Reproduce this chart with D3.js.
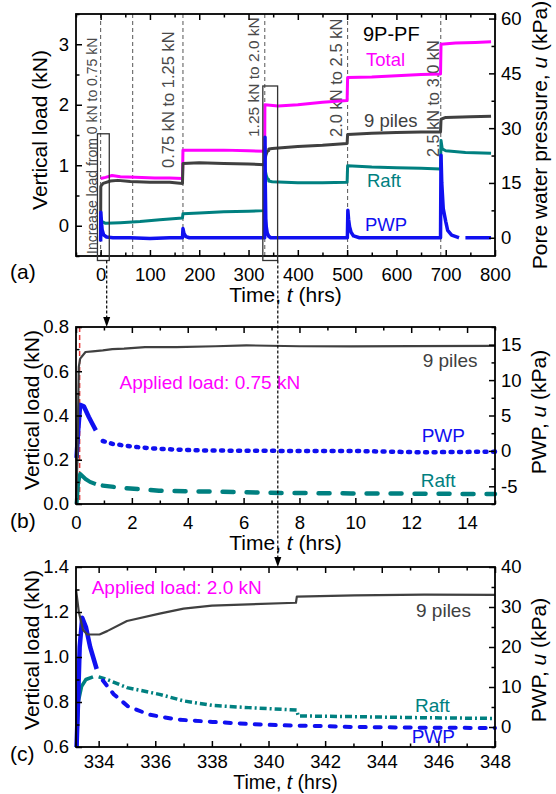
<!DOCTYPE html>
<html>
<head>
<meta charset="utf-8">
<script src="https://cdn.jsdelivr.net/npm/d3@7"></script>
<style>
  body { margin: 0; background: #fff; }
  svg { display: block; }
</style>
</head>
<body>
<svg id="fig" width="556" height="794"></svg>
<script>
// ---------------- data ----------------
// (a) long-term record, t in hours; loads in kN, PWP in kPa
const aTotal = [[0,0.78],[10,0.80],[23,0.83],[40,0.81],[70,0.80],[110,0.79],[140,0.79],[166,0.78],
  [167,1.25],[200,1.25],[250,1.25],[300,1.24],[332.8,1.23],
  [333.2,2.0],[360,1.98],[400,2.0],[450,2.04],[500,2.07],
  [501,2.45],[550,2.46],[600,2.48],[650,2.5],[689.5,2.51],
  [690.5,3.0],[720,3.02],[760,3.03],[792,3.04]];
const aPiles = [[0,0],[0.3,0.65],[5,0.70],[20,0.74],[35,0.75],[60,0.73],[100,0.72],[140,0.72],[166,0.70],
  [167,1.03],[200,1.04],[250,1.03],[300,1.02],[332.8,1.01],
  [333.2,1.3],[333.6,1.1],[335,1.16],[338,1.23],[341,1.24],[341.1,1.27],[348,1.275],[400,1.31],[450,1.33],[500,1.36],
  [501,1.51],[550,1.53],[600,1.54],[650,1.55],[689.5,1.55],
  [690.5,1.76],[700,1.79],[750,1.80],[792,1.81]];
const aRaft = [[0,0],[0.3,0.13],[3,0.07],[10,0.04],[40,0.05],[80,0.07],[120,0.10],[166,0.13],
  [167,0.20],[200,0.21],[250,0.23],[300,0.24],[332.8,0.25],
  [333.3,0.85],[334,0.91],[336,0.83],[338,0.785],[341,0.764],[341.1,0.738],[348,0.727],[400,0.71],[450,0.71],[500,0.72],
  [501,0.99],[550,0.97],[600,0.96],[650,0.95],[689.5,0.94],
  [690.5,1.41],[693,1.27],[700,1.24],[740,1.21],[792,1.20]];
const aPwp = [[0,-1],[0.3,7],[1.5,4.5],[3,2.2],[6,0.8],[12,0.2],[25,0],[60,0],[100,-0.2],[140,0],[166,0],
  [167,2.5],[169,1.2],[173,0.3],[180,0],[240,0],[300,0],[332.8,0],
  [333.4,27.5],[334,14.5],[335,5.2],[336,3],[338,1.3],[341,0.4],[345,0],[420,0],[500.5,0],
  [501.5,7.5],[503,5],[505,3],[508,1.5],[513,0.5],[525,0],[600,0],[689.5,0],
  [690.5,22.6],[692,15],[695,8],[700,4.5],[704,2],[712,0.7],[725,0.1],[727,0],[727,null],
  [740,null],[740,0],[792,0]];
const aGuides = [0, 65, 167, 333, 501, 690];
const aStepLabels = ["Increase load from 0 kN to 0.75 kN", "0.75 kN to 1.25 kN",
  "1.25 kN to 2.0 kN", "2.0 kN to 2.5 kN", "2.5 kN to 3.0 kN"];
const aXTicks = [0,100,200,300,400,500,600,700,800];
const aXMinor = [-50,50,150,250,350,450,550,650,750];
const aLTicks = [0,1,2,3];
const aLMinor = [-0.5,0.5,1.5,2.5,3.5];
const aRTicks = [0,15,30,45,60];
const aRMinor = [7.5,22.5,37.5,52.5];

// (b) first 15 h after the 0.75 kN step
const bPiles = [[0,0],[0.05,0.2],[0.1,0.62],[0.15,0.657],[0.34,0.687],[0.6,0.69],[0.96,0.694],[1.3,0.70],
  [1.72,0.702],[2.47,0.709],[3.6,0.709],[5,0.713],[6.1,0.717],[8,0.713],[9.86,0.712],[12,0.714],[15,0.715]];
const bPwp = [[0.02,-1],[0.08,3],[0.15,6.5],[0.28,6.3],[0.46,4.8],[0.59,3.8],[0.71,2.9],
  [0.96,1.4],[1.3,1.0],[1.72,0.76],[2.3,0.5],[2.97,0.28],[4,0.12],[4.85,0.05],[7.36,0],[9.86,0],[12.4,-0.2],[15,-0.1]];
const bRaft = [[0.02,0.0],[0.08,0.1],[0.15,0.136],[0.34,0.113],[0.5,0.10],[0.71,0.09],
  [0.96,0.083],[1.72,0.072],[2.97,0.06],[4.85,0.056],[7.36,0.05],[9.86,0.048],[15,0.045]];
const bLoadTime = 0.13;
const bSteepEnd = 0.72;
const bXTicks = [0,2,4,6,8,10,12,14];
const bXMinor = [1,3,5,7,9,11,13,15];
const bLTicks = [0,0.2,0.4,0.6,0.8];
const bLMinor = [0.1,0.3,0.5,0.7];
const bRTicks = [-5,0,5,10,15];
const bRMinor = [-7.5,-2.5,2.5,7.5,12.5,17.5];

// (c) first 15 h after the 2.0 kN step
const cPiles = [[333.2,1.30],[333.3,1.2],[333.45,1.12],[333.6,1.1],[334.03,1.1],[334.3,1.115],[335.0,1.16],
  [336.15,1.193],[337.0,1.215],[338.0,1.228],[339.3,1.234],[340.97,1.241],[341.0,1.268],
  [343.04,1.274],[345.5,1.277],[348,1.276]];
const cPwp = [[333.22,-5],[333.28,8],[333.33,20],[333.42,27.3],[333.55,25],[333.7,20],[333.93,14.5],
  [334.15,11.6],[334.53,8.2],[335.03,5.2],[335.78,3.1],[336.78,1.86],[338.03,1.27],[339.28,0.76],
  [340.5,0.42],[341.8,0.25],[343.04,0],[345.5,-0.17],[348,-0.25]];
const cRaft = [[333.22,0.6],[333.28,0.8],[333.4,0.87],[333.55,0.9],[333.8,0.912],[334.0,0.912],
  [334.3,0.9],[335.0,0.864],[336.15,0.834],[337.0,0.805],[338.0,0.785],[339.3,0.775],[341.0,0.764],
  [341.05,0.738],[343.0,0.735],[345.5,0.73],[348,0.727]];
const cSteepEnd = 333.95;
const cXTicks = [334,336,338,340,342,344,346,348];
const cXMinor = [335,337,339,341,343,345,347];
const cLTicks = [0.6,0.8,1.0,1.2,1.4];
const cLMinor = [0.7,0.9,1.1,1.3];
const cRTicks = [0,10,20,30,40];
const cRMinor = [-5,5,15,25,35];

// ---------------- drawing ----------------
const FONT = '"Liberation Sans", Arial, Helvetica, sans-serif';
const C = { total: "#ff00ff", piles: "#404040", raft: "#008080", pwp: "#1010f0", guide: "#555" };
const svg = d3.select("#fig").attr("font-family", FONT);
const L = 76, R = 495;

const panelA = { top: 14, bottom: 256 };
const panelB = { top: 327, bottom: 504 };
const panelC = { top: 567, bottom: 747 };

const xa = d3.scaleLinear().domain([-50, 800]).range([L, R]);
const yaL = d3.scaleLinear().domain([-0.5, 3.5]).range([panelA.bottom, panelA.top]);
const yaR = d3.scaleLinear().domain([-5, 61.25]).range([panelA.bottom, panelA.top]);
const xb = d3.scaleLinear().domain([0, 15]).range([L, R]);
const ybL = d3.scaleLinear().domain([0, 0.8]).range([panelB.bottom, panelB.top]);
const ybR = d3.scaleLinear().domain([-7.5, 17.5]).range([panelB.bottom, panelB.top]);
const xc = d3.scaleLinear().domain([333.2, 348]).range([L, R]);
const ycL = d3.scaleLinear().domain([0.6, 1.4]).range([panelC.bottom, panelC.top]);
const ycR = d3.scaleLinear().domain([-5, 40]).range([panelC.bottom, panelC.top]);

function addAxis(gen, tr, values, size, fmt, pad) {
  const a = svg.append("g").attr("transform", tr)
    .call(gen.tickValues(values).tickSize(size).tickPadding(pad).tickFormat(fmt));
  a.select(".domain").remove();
  a.selectAll("line").attr("stroke", "#000").attr("stroke-width", 1.5);
  a.selectAll("text").attr("font-size", 18.5).attr("fill", "#000").attr("font-family", FONT);
  return a;
}

function axes(p, x, yL, yR, t) {
  const blank = () => "";
  addAxis(d3.axisBottom(x), `translate(0,${p.bottom})`, t.xMajor, -6, t.xFmt, t.xPad || 11.5);
  addAxis(d3.axisBottom(x), `translate(0,${p.bottom})`, t.xMinor, -3.5, blank, 0);
  addAxis(d3.axisTop(x), `translate(0,${p.top})`, t.xMajor, -6, blank, 0);
  addAxis(d3.axisTop(x), `translate(0,${p.top})`, t.xMinor, -3.5, blank, 0);
  addAxis(d3.axisLeft(yL), `translate(${L},0)`, t.lMajor, -6, t.lFmt, 7);
  addAxis(d3.axisLeft(yL), `translate(${L},0)`, t.lMinor, -3.5, blank, 0);
  addAxis(d3.axisRight(yR), `translate(${R},0)`, t.rMajor, -6, t.rFmt, 6);
  addAxis(d3.axisRight(yR), `translate(${R},0)`, t.rMinor, -3.5, blank, 0);
  svg.append("rect").attr("x", L).attr("y", p.top).attr("width", R - L).attr("height", p.bottom - p.top)
    .attr("fill", "none").attr("stroke", "#000").attr("stroke-width", 1.8);
}

function series(data, x, y, color, width, dash) {
  const line = d3.line().defined(d => d[1] !== null).x(d => x(d[0])).y(d => y(d[1]));
  const path = svg.append("path").datum(data).attr("d", line)
    .attr("fill", "none").attr("stroke", color).attr("stroke-width", width)
    .attr("stroke-linejoin", "round");
  if (dash) path.attr("stroke-dasharray", dash.pattern).attr("stroke-linecap", dash.cap || "butt");
  return path;
}

function text(x, y, str, size, color) {
  return svg.append("text").attr("x", x).attr("y", y).attr("font-size", size).attr("fill", color || "#000").text(str);
}

function italicTitle(g, parts) {
  parts.forEach(([s, it]) => g.append("tspan").attr("font-style", it ? "italic" : "normal").text(s));
}

const intFmt = d => String(d);
const oneFmt = d => d.toFixed(1);

// ---- panel (a) ----
svg.append("clipPath").attr("id", "clipA").append("rect")
  .attr("x", L).attr("y", panelA.top).attr("width", R - L).attr("height", panelA.bottom - panelA.top);

svg.append("g").selectAll("line").data(aGuides).join("line")
  .attr("x1", d => xa(d)).attr("x2", d => xa(d)).attr("y1", panelA.top).attr("y2", panelA.bottom)
  .attr("stroke", C.guide).attr("stroke-width", 1).attr("stroke-dasharray", "4,3");

// rotated step captions, each sitting just left of its guide line
const stepPos = [
  { x: 96.5, y: 254, size: 14 },
  { x: 174, y: 168, size: 16.5 },
  { x: 259, y: 137, size: 15.5 },
  { x: 342, y: 137, size: 16.5 },
  { x: 438.5, y: 157, size: 16.3 }
];
aStepLabels.forEach((s, i) => {
  const p = stepPos[i];
  svg.append("text").attr("transform", `translate(${p.x},${p.y}) rotate(-90)`)
    .attr("font-size", p.size).attr("fill", "#4a4a4a").text(s);
});

const gA = svg.append("g").attr("clip-path", "url(#clipA)");
function seriesIn(g, data, x, y, color, width) {
  const line = d3.line().defined(d => d[1] !== null).x(d => x(d[0])).y(d => y(d[1]));
  g.append("path").datum(data).attr("d", line).attr("fill", "none")
    .attr("stroke", color).attr("stroke-width", width).attr("stroke-linejoin", "round");
}
seriesIn(gA, aTotal, xa, yaL, C.total, 3);
seriesIn(gA, aPiles, xa, yaL, C.piles, 3);
seriesIn(gA, aRaft, xa, yaL, C.raft, 3);
seriesIn(gA, aPwp, xa, yaR, C.pwp, 3.5);

axes(panelA, xa, yaL, yaR, {
  xMajor: aXTicks, xMinor: aXMinor, xFmt: intFmt,
  lMajor: aLTicks, lMinor: aLMinor, lFmt: intFmt,
  rMajor: aRTicks, rMinor: aRMinor, rFmt: intFmt
});

// zoom windows and their pointer arrows
function box(x0, x1, y0, y1) {
  svg.append("rect").attr("x", x0).attr("y", y0).attr("width", x1 - x0).attr("height", y1 - y0)
    .attr("fill", "none").attr("stroke", "#333").attr("stroke-width", 1.3);
}
box(xa(-6.5), xa(17.5), yaL(1.52), 260.5);
box(xa(329), xa(359), yaL(2.31), 260.5);

function arrow(x, y0, y1) {
  svg.append("line").attr("x1", x).attr("x2", x).attr("y1", y0).attr("y2", y1 - 8)
    .attr("stroke", "#000").attr("stroke-width", 1.2).attr("stroke-dasharray", "3,2");
  svg.append("path").attr("d", `M${x - 3.5},${y1 - 10} L${x + 3.5},${y1 - 10} L${x},${y1} Z`).attr("fill", "#000");
}
arrow(106.7, 260.5, panelB.top);

text(363, 41, "9P-PF", 20, "#000");
text(366, 66, "Total", 18.5, C.total);
text(364, 127, "9 piles", 18.5, C.piles);
text(367, 186.5, "Raft", 18.5, C.raft);
text(365, 230.5, "PWP", 18.5, C.pwp);

// ---- panel (b) ----
svg.append("line").attr("x1", xb(bLoadTime)).attr("x2", xb(bLoadTime))
  .attr("y1", panelB.top).attr("y2", panelB.bottom)
  .attr("stroke", "#e83a3a").attr("stroke-width", 1.5).attr("stroke-dasharray", "5,3");

const steepB = d => d[0] <= bSteepEnd;
const tailB = d => d[0] >= bSteepEnd;
series(bRaft.filter(steepB), xb, ybL, C.raft, 4);
series(bRaft.filter(tailB), xb, ybL, C.raft, 4.5, { pattern: "11,13", cap: "round" });
series(bPwp.filter(steepB), xb, ybR, C.pwp, 4.5);
series(bPwp.filter(tailB), xb, ybR, C.pwp, 4.5, { pattern: "2,6.5", cap: "round" });
series(bPiles, xb, ybL, C.piles, 2.2);

axes(panelB, xb, ybL, ybR, {
  xMajor: bXTicks, xMinor: bXMinor, xFmt: intFmt,
  lMajor: bLTicks, lMinor: bLMinor, lFmt: oneFmt,
  rMajor: bRTicks, rMinor: bRMinor, rFmt: intFmt
});

text(119.5, 388.5, "Applied load: 0.75 kN", 19, C.total);
text(422.7, 366.7, "9 piles", 19, C.piles);
text(421.7, 441.7, "PWP", 19, C.pwp);
text(420.7, 486.7, "Raft", 19, C.raft);

// ---- panel (c) ----
const steepC = d => d[0] <= cSteepEnd;
const tailC = d => d[0] >= cSteepEnd;
series(cRaft.filter(steepC), xc, ycL, C.raft, 3.5);
series(cRaft.filter(tailC), xc, ycL, C.raft, 3.5, { pattern: "7,3,2,3" });
series(cPwp.filter(steepC), xc, ycR, C.pwp, 4.5);
series(cPwp.filter(tailC), xc, ycR, C.pwp, 4, { pattern: "6,9", cap: "round" });
series(cPiles, xc, ycL, C.piles, 2.2);

axes(panelC, xc, ycL, ycR, {
  xMajor: cXTicks, xMinor: cXMinor, xFmt: intFmt, xPad: 7.5,
  lMajor: cLTicks, lMinor: cLMinor, lFmt: oneFmt,
  rMajor: cRTicks, rMinor: cRMinor, rFmt: intFmt
});

arrow(277.8, 260.5, panelC.top);

text(91.7, 593.5, "Applied load: 2.0 kN", 19, C.total);
text(416, 617, "9 piles", 19, C.piles);
text(415, 711.7, "Raft", 19, C.raft);
text(411.7, 743, "PWP", 19, C.pwp);

// ---- axis titles and panel letters ----
const TS = 21;
[[302, TS], [550, TS], [789.3, 19.5]].forEach(([y, fs]) => {
  const t = svg.append("text").attr("x", (L + R) / 2).attr("y", y).attr("text-anchor", "middle").attr("font-size", fs);
  italicTitle(t, [["Time, ", false], ["t", true], [" (hrs)", false]]);
});
[[47, 130], [39, 410], [39, 650]].forEach(([x, y]) => {
  svg.append("text").attr("transform", `translate(${x},${y}) rotate(-90)`)
    .attr("text-anchor", "middle").attr("font-size", TS).text("Vertical load (kN)");
});
{
  const t = svg.append("text").attr("transform", `translate(546.5,135) rotate(-90)`)
    .attr("text-anchor", "middle").attr("font-size", TS);
  italicTitle(t, [["Pore water pressure, ", false], ["u", true], [" (kPa)", false]]);
}
[[546, 412], [546, 660]].forEach(([x, y]) => {
  const t = svg.append("text").attr("transform", `translate(${x},${y}) rotate(-90)`)
    .attr("text-anchor", "middle").attr("font-size", TS);
  italicTitle(t, [["PWP, ", false], ["u", true], [" (kPa)", false]]);
});
text(10, 279, "(a)", TS, "#000");
text(10, 528, "(b)", TS, "#000");
text(10, 761, "(c)", TS, "#000");
</script>
</body>
</html>
